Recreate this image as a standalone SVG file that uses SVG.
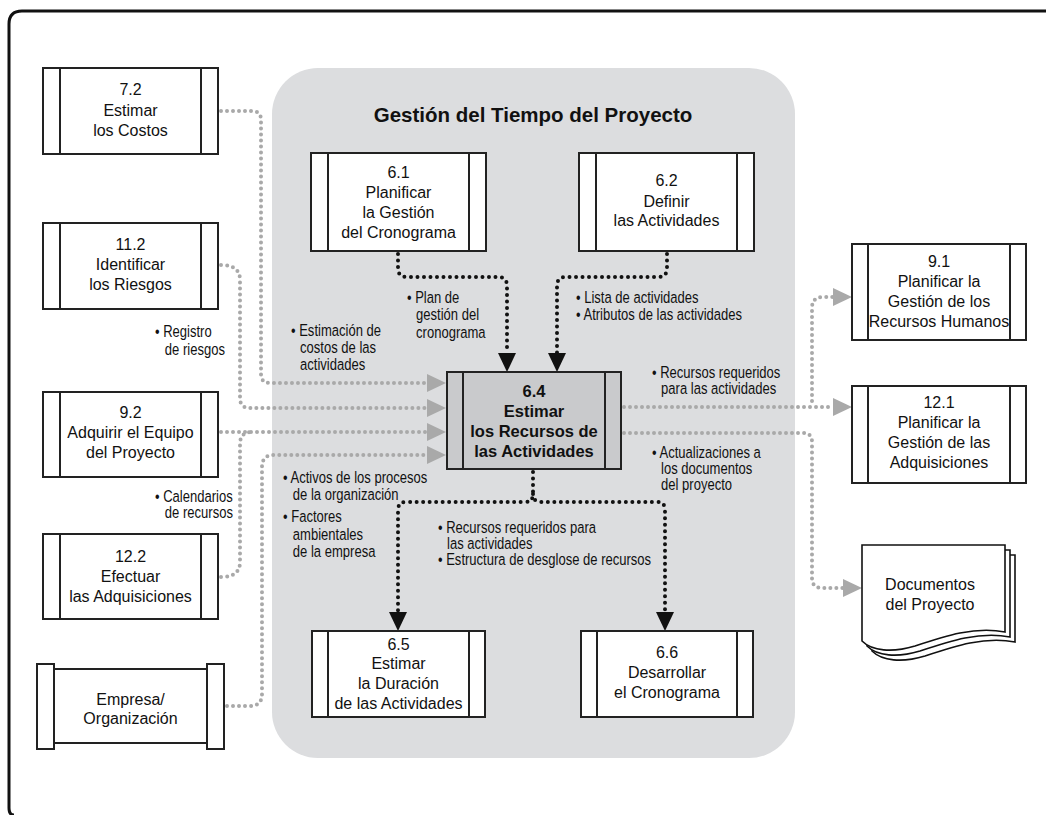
<svg xmlns="http://www.w3.org/2000/svg" width="1046" height="815" viewBox="0 0 1046 815">
<style>
.frame{fill:none;stroke:#111;stroke-width:3}
.panel{fill:#dcdddf}
.box{fill:#fff;stroke:#222;stroke-width:2}
.boxc{fill:#c9cacc;stroke:#222;stroke-width:2}
.bar{stroke:#222;stroke-width:2}
.lbl{font-family:"Liberation Sans",Arial,sans-serif;font-size:16px;text-anchor:middle;fill:#111}
.lblb{font-family:"Liberation Sans",Arial,sans-serif;font-size:16.5px;font-weight:bold;text-anchor:middle;fill:#111}
.title{font-family:"Liberation Sans",Arial,sans-serif;font-size:20.5px;font-weight:bold;text-anchor:middle;fill:#111}
.note{font-family:"Liberation Sans",Arial,sans-serif;font-size:16.5px;fill:#111}
.blk{fill:none;stroke:#111;stroke-width:4;stroke-linecap:round;stroke-dasharray:0 6.5}
.gry{fill:none;stroke:#a9a9a9;stroke-width:4;stroke-linecap:round;stroke-dasharray:0 6}
.doc{fill:#fff;stroke:#111;stroke-width:1.6}
</style>
<defs>
<marker id="ab" viewBox="0 0 19 18" markerWidth="19" markerHeight="18" refX="0" refY="9" orient="auto" markerUnits="userSpaceOnUse"><path d="M0,0 L19,9 L0,18 Z" fill="#111"/></marker>
<marker id="ag" viewBox="0 0 19 18" markerWidth="19" markerHeight="18" refX="0" refY="9" orient="auto" markerUnits="userSpaceOnUse"><path d="M0,0 L19,9 L0,18 Z" fill="#a9a9a9"/></marker>
</defs>
<rect width="1046" height="815" fill="#fff"/>
<path class="frame" d="M14,815 Q9,815 9,808 V24 Q9,11 22,11 H1046"/>
<rect class="panel" x="272" y="68" width="523" height="690" rx="46"/>
<text class="title" x="533" y="122">Gestión del Tiempo del Proyecto</text>

<g id="connectors">
<path class="blk" d="M398,254 V268 Q398,277 407,277 H498 Q507,277 507,286 V353" marker-end="url(#ab)"/>
<path class="blk" d="M667,254 V268 Q667,277 658,277 H566 Q557,277 557,286 V353" marker-end="url(#ab)"/>
<path class="blk" d="M533,472 V494 Q533,502 525,502 H406 Q398,502 398,510 V612" marker-end="url(#ab)"/>
<path class="blk" d="M533,494 Q533,502 541,502 H657 Q665,502 665,510 V612" marker-end="url(#ab)"/>
<path class="gry" d="M221,111 H252 Q261,111 261,120 V374 Q261,383 270,383 H427" marker-end="url(#ag)"/>
<path class="gry" d="M221,265 Q240,265 240,280 V398 Q240,408 250,408 H427" marker-end="url(#ag)"/>
<path class="gry" d="M221,432 H427" marker-end="url(#ag)"/>
<path class="gry" d="M221,577 Q240,577 240,562 V444 Q240,432 252,432"/>
<path class="gry" d="M227,706 H250 Q262,706 262,694 V467 Q262,455 274,455 H427" marker-end="url(#ag)"/>
<path class="gry" d="M624,407 H833" marker-end="url(#ag)"/>
<path class="gry" d="M812,401 V308 Q812,297 823,297 H833" marker-end="url(#ag)"/>
<path class="gry" d="M624,433 H803 Q812,433 812,442 V578 Q812,588 822,588 H843" marker-end="url(#ag)"/>
</g>

<g id="n72">
<rect class="box" x="43" y="68" width="175" height="86"/>
<line class="bar" x1="60" y1="68" x2="60" y2="154"/><line class="bar" x1="201" y1="68" x2="201" y2="154"/>
<text class="lbl"><tspan x="130.5" y="95">7.2</tspan><tspan x="130.5" y="116">Estimar</tspan><tspan x="130.5" y="136">los Costos</tspan></text>
</g>
<g id="n112">
<rect class="box" x="43" y="223" width="175" height="86"/>
<line class="bar" x1="60" y1="223" x2="60" y2="309"/><line class="bar" x1="201" y1="223" x2="201" y2="309"/>
<text class="lbl"><tspan x="130.5" y="250">11.2</tspan><tspan x="130.5" y="270">Identificar</tspan><tspan x="130.5" y="290">los Riesgos</tspan></text>
</g>
<g id="n92">
<rect class="box" x="43" y="392" width="175" height="85"/>
<line class="bar" x1="60" y1="392" x2="60" y2="477"/><line class="bar" x1="201" y1="392" x2="201" y2="477"/>
<text class="lbl"><tspan x="130.5" y="418">9.2</tspan><tspan x="130.5" y="438">Adquirir el Equipo</tspan><tspan x="130.5" y="458">del Proyecto</tspan></text>
</g>
<g id="n122">
<rect class="box" x="43" y="534" width="175" height="85"/>
<line class="bar" x1="60" y1="534" x2="60" y2="619"/><line class="bar" x1="201" y1="534" x2="201" y2="619"/>
<text class="lbl"><tspan x="130.5" y="562">12.2</tspan><tspan x="130.5" y="582">Efectuar</tspan><tspan x="130.5" y="602">las Adquisiciones</tspan></text>
</g>
<g id="nEmpresa">
<rect class="box" x="54" y="669" width="153" height="74"/>
<rect class="box" x="37" y="664" width="17" height="85"/>
<rect class="box" x="207" y="664" width="17" height="85"/>
<text class="lbl"><tspan x="130.5" y="705">Empresa/</tspan><tspan x="130.5" y="724">Organización</tspan></text>
</g>
<g id="n61">
<rect class="box" x="311" y="153" width="175" height="98"/>
<line class="bar" x1="328" y1="153" x2="328" y2="251"/><line class="bar" x1="469" y1="153" x2="469" y2="251"/>
<text class="lbl"><tspan x="398.5" y="178">6.1</tspan><tspan x="398.5" y="198">Planificar</tspan><tspan x="398.5" y="218">la Gestión</tspan><tspan x="398.5" y="238">del Cronograma</tspan></text>
</g>
<g id="n62">
<rect class="box" x="579" y="153" width="175" height="98"/>
<line class="bar" x1="596" y1="153" x2="596" y2="251"/><line class="bar" x1="737" y1="153" x2="737" y2="251"/>
<text class="lbl"><tspan x="666.5" y="186">6.2</tspan><tspan x="666.5" y="207">Definir</tspan><tspan x="666.5" y="226">las Actividades</tspan></text>
</g>
<g id="n64">
<rect class="boxc" x="447" y="372" width="174" height="97"/>
<line class="bar" x1="463" y1="372" x2="463" y2="469"/><line class="bar" x1="605" y1="372" x2="605" y2="469"/>
<text class="lblb"><tspan x="534" y="397">6.4</tspan><tspan x="534" y="417">Estimar</tspan><tspan x="534" y="437">los Recursos de</tspan><tspan x="534" y="457">las Actividades</tspan></text>
</g>
<g id="n65">
<rect class="box" x="312" y="631" width="173" height="86"/>
<line class="bar" x1="328" y1="631" x2="328" y2="717"/><line class="bar" x1="469" y1="631" x2="469" y2="717"/>
<text class="lbl"><tspan x="398.5" y="650">6.5</tspan><tspan x="398.5" y="669">Estimar</tspan><tspan x="398.5" y="689">la Duración</tspan><tspan x="398.5" y="709">de las Actividades</tspan></text>
</g>
<g id="n66">
<rect class="box" x="581" y="631" width="172" height="86"/>
<line class="bar" x1="597" y1="631" x2="597" y2="717"/><line class="bar" x1="737" y1="631" x2="737" y2="717"/>
<text class="lbl"><tspan x="667" y="658">6.6</tspan><tspan x="667" y="678">Desarrollar</tspan><tspan x="667" y="698">el Cronograma</tspan></text>
</g>
<g id="n91">
<rect class="box" x="852" y="244" width="174" height="96"/>
<line class="bar" x1="868" y1="244" x2="868" y2="340"/><line class="bar" x1="1010" y1="244" x2="1010" y2="340"/>
<text class="lbl"><tspan x="939" y="267">9.1</tspan><tspan x="939" y="287">Planificar la</tspan><tspan x="939" y="307">Gestión de los</tspan><tspan x="939" y="327">Recursos Humanos</tspan></text>
</g>
<g id="n121">
<rect class="box" x="852" y="386" width="174" height="97"/>
<line class="bar" x1="868" y1="386" x2="868" y2="483"/><line class="bar" x1="1010" y1="386" x2="1010" y2="483"/>
<text class="lbl"><tspan x="939" y="408">12.1</tspan><tspan x="939" y="428">Planificar la</tspan><tspan x="939" y="448">Gestión de las</tspan><tspan x="939" y="468">Adquisiciones</tspan></text>
</g>
<g id="nDocs">
<path class="doc" transform="translate(10,10)" d="M862,545 H1005 V632 C975,626 945,636 915,646 C892,653 872,651 862,641 Z"/>
<path class="doc" transform="translate(5,5)" d="M862,545 H1005 V632 C975,626 945,636 915,646 C892,653 872,651 862,641 Z"/>
<path class="doc" d="M862,545 H1005 V632 C975,626 945,636 915,646 C892,653 872,651 862,641 Z"/>
<text class="lbl"><tspan x="930" y="590">Documentos</tspan><tspan x="930" y="610">del Proyecto</tspan></text>
</g>

<g id="labels">
<g transform="translate(407,0) scale(0.79,1)"><text class="note"><tspan x="0" y="303">• Plan de</tspan><tspan x="11.5" y="320">gestión del</tspan><tspan x="11.5" y="338">cronograma</tspan></text></g>
<g transform="translate(576,0) scale(0.79,1)"><text class="note"><tspan x="0" y="303">• Lista de actividades</tspan><tspan x="0" y="320">• Atributos de las actividades</tspan></text></g>
<g transform="translate(291,0) scale(0.79,1)"><text class="note"><tspan x="0" y="336">• Estimación de</tspan><tspan x="11.5" y="353">costos de las</tspan><tspan x="11.5" y="370">actividades</tspan></text></g>
<g transform="translate(155,0) scale(0.79,1)"><text class="note"><tspan x="0" y="337">• Registro</tspan><tspan x="12.5" y="355">de riesgos</tspan></text></g>
<g transform="translate(155,0) scale(0.79,1)"><text class="note"><tspan x="0" y="502">• Calendarios</tspan><tspan x="12.5" y="518">de recursos</tspan></text></g>
<g transform="translate(283,0) scale(0.79,1)"><text class="note"><tspan x="0" y="483">• Activos de los procesos</tspan><tspan x="12.5" y="500">de la organización</tspan></text></g>
<g transform="translate(283,0) scale(0.79,1)"><text class="note"><tspan x="0" y="522">• Factores</tspan><tspan x="12.5" y="540">ambientales</tspan><tspan x="12.5" y="557">de la empresa</tspan></text></g>
<g transform="translate(438,0) scale(0.79,1)"><text class="note"><tspan x="0" y="533">• Recursos requeridos para</tspan><tspan x="11.5" y="549">las actividades</tspan><tspan x="0" y="565">• Estructura de desglose de recursos</tspan></text></g>
<g transform="translate(652,0) scale(0.79,1)"><text class="note"><tspan x="0" y="378">• Recursos requeridos</tspan><tspan x="11.5" y="394">para las actividades</tspan></text></g>
<g transform="translate(652,0) scale(0.79,1)"><text class="note"><tspan x="0" y="458">• Actualizaciones a</tspan><tspan x="11.5" y="474">los documentos</tspan><tspan x="11.5" y="490">del proyecto</tspan></text></g>
</g>
</svg>
